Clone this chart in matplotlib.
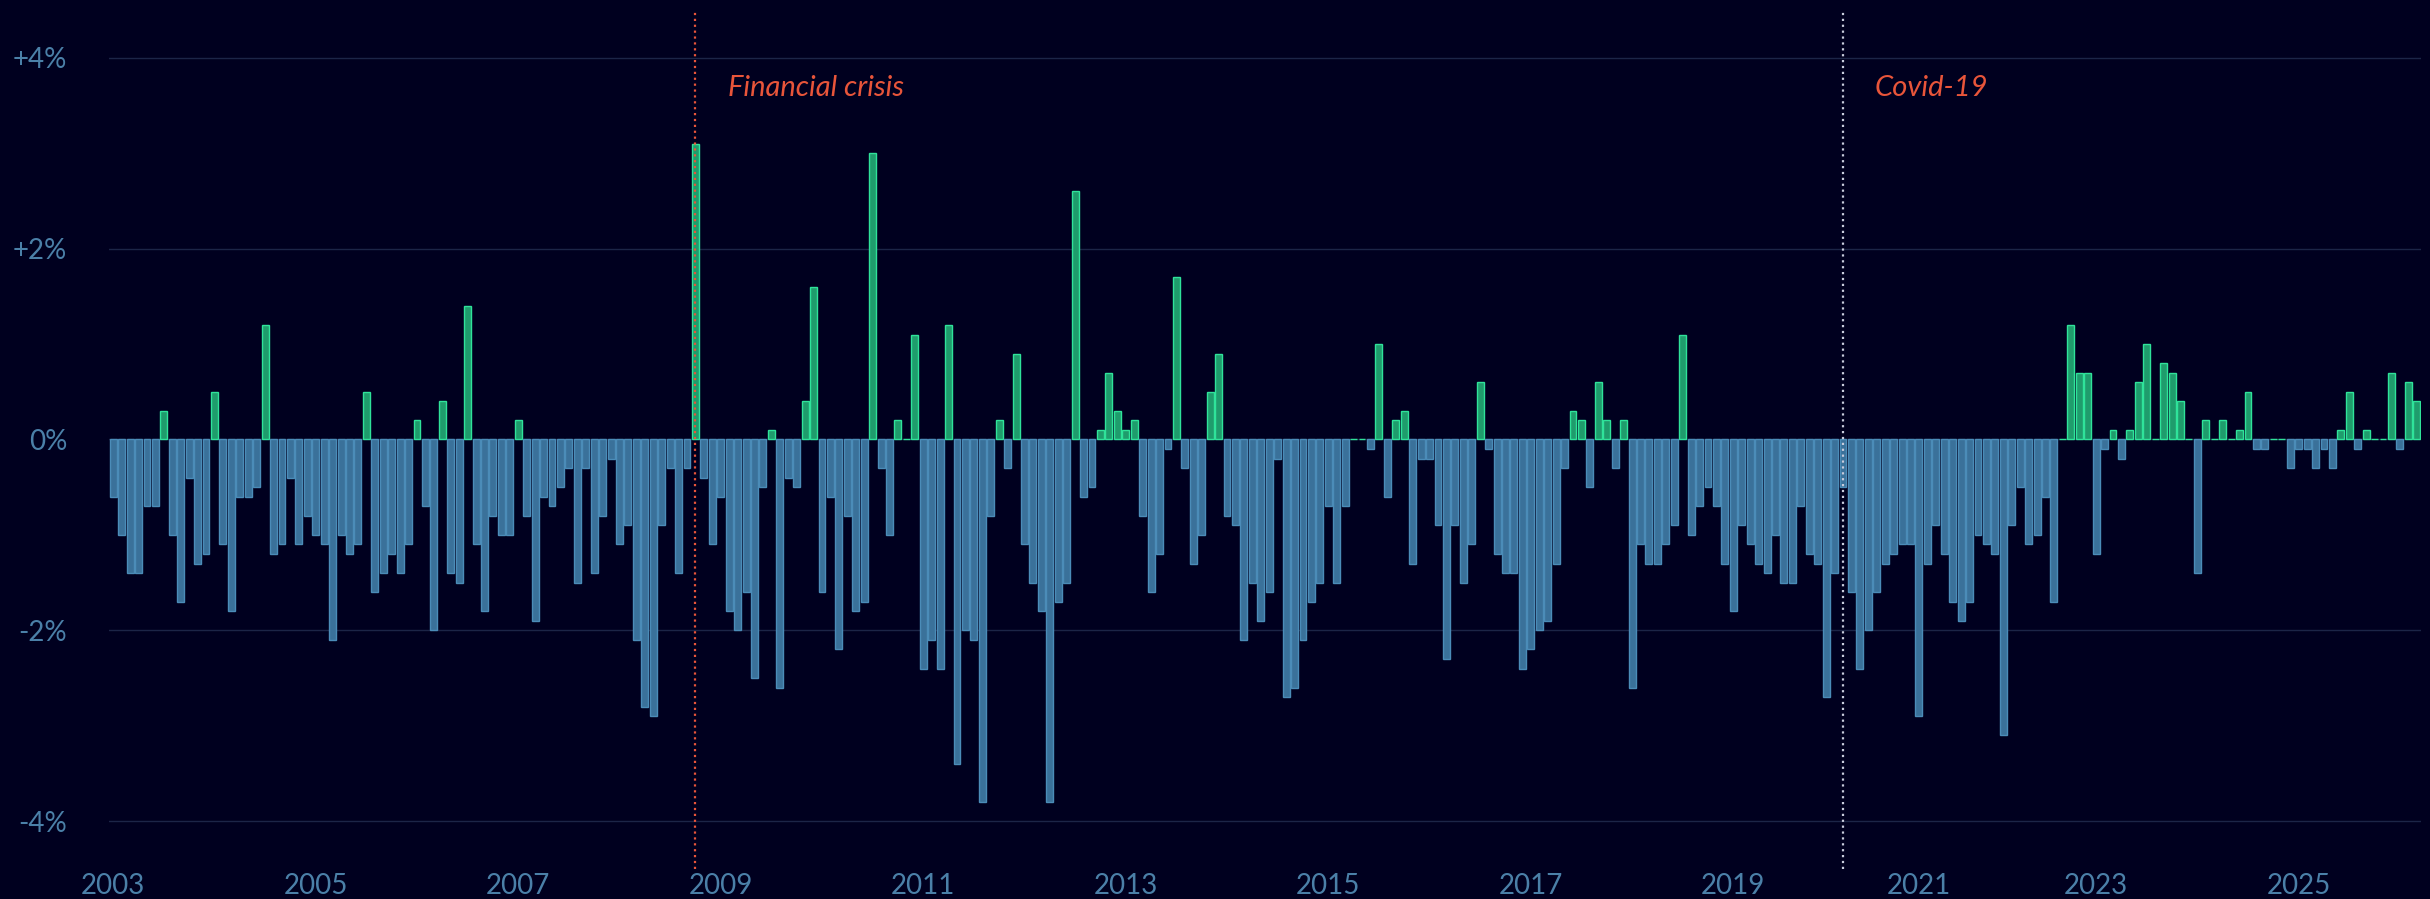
import matplotlib.pyplot as plt

# monthly change, % (Jan 2003 ->)
values = [
    -0.6, -1.0, -1.4, -1.4, -0.7, -0.7, 0.3, -1.0, -1.7, -0.4, -1.3, -1.2,
    0.5, -1.1, -1.8, -0.6, -0.6, -0.5, 1.2, -1.2, -1.1, -0.4, -1.1, -0.8,
    -1.0, -1.1, -2.1, -1.0, -1.2, -1.1, 0.5, -1.6, -1.4, -1.2, -1.4, -1.1,
    0.2, -0.7, -2.0, 0.4, -1.4, -1.5, 1.4, -1.1, -1.8, -0.8, -1.0, -1.0,
    0.2, -0.8, -1.9, -0.6, -0.7, -0.5, -0.3, -1.5, -0.3, -1.4, -0.8, -0.2,
    -1.1, -0.9, -2.1, -2.8, -2.9, -0.9, -0.3, -1.4, -0.3, 3.1, -0.4, -1.1,
    -0.6, -1.8, -2.0, -1.6, -2.5, -0.5, 0.1, -2.6, -0.4, -0.5, 0.4, 1.6,
    -1.6, -0.6, -2.2, -0.8, -1.8, -1.7, 3.0, -0.3, -1.0, 0.2, 0.0, 1.1,
    -2.4, -2.1, -2.4, 1.2, -3.4, -2.0, -2.1, -3.8, -0.8, 0.2, -0.3, 0.9,
    -1.1, -1.5, -1.8, -3.8, -1.7, -1.5, 2.6, -0.6, -0.5, 0.1, 0.7, 0.3,
    0.1, 0.2, -0.8, -1.6, -1.2, -0.1, 1.7, -0.3, -1.3, -1.0, 0.5, 0.9,
    -0.8, -0.9, -2.1, -1.5, -1.9, -1.6, -0.2, -2.7, -2.6, -2.1, -1.7, -1.5,
    -0.7, -1.5, -0.7, 0.0, 0.0, -0.1, 1.0, -0.6, 0.2, 0.3, -1.3, -0.2,
    -0.2, -0.9, -2.3, -0.9, -1.5, -1.1, 0.6, -0.1, -1.2, -1.4, -1.4, -2.4,
    -2.2, -2.0, -1.9, -1.3, -0.3, 0.3, 0.2, -0.5, 0.6, 0.2, -0.3, 0.2,
    -2.6, -1.1, -1.3, -1.3, -1.1, -0.9, 1.1, -1.0, -0.7, -0.5, -0.7, -1.3,
    -1.8, -0.9, -1.1, -1.3, -1.4, -1.0, -1.5, -1.5, -0.7, -1.2, -1.3, -2.7,
    -1.4, -0.5, -1.6, -2.4, -2.0, -1.6, -1.3, -1.2, -1.1, -1.1, -2.9, -1.3,
    -0.9, -1.2, -1.7, -1.9, -1.7, -1.0, -1.1, -1.2, -3.1, -0.9, -0.5, -1.1,
    -1.0, -0.6, -1.7, 0.0, 1.2, 0.7, 0.7, -1.2, -0.1, 0.1, -0.2, 0.1,
    0.6, 1.0, 0.0, 0.8, 0.7, 0.4, 0.0, -1.4, 0.2, 0.0, 0.2, 0.0,
    0.1, 0.5, -0.1, -0.1, 0.0, 0.0, -0.3, -0.1, -0.1, -0.3, -0.1, -0.3,
    0.1, 0.5, -0.1, 0.1, 0.0, 0.0, 0.7, -0.1, 0.6, 0.4,
]

# x labels and the bar they sit under
year_labels = ['2003', '2005', '2007', '2009', '2011', '2013',
               '2015', '2017', '2019', '2021', '2023', '2025']
year_pos = [0, 24, 48, 72, 96, 120, 144, 168, 192, 214, 235, 259]

events = ['Financial crisis', 'Covid-19']
event_pos = [69, 205]
event_line_colors = ['#e8553a', '#c8ccdc']

bg = '#00001f'
tick_col = '#4b80a8'

plt.rcParams['font.family'] = ['Lato', 'DejaVu Sans']

fig = plt.figure(figsize=(24.3, 8.99), dpi=100, facecolor=bg)
ax = fig.add_axes([109 / 2430, 30 / 899, 2312 / 2430, 859 / 899])
ax.set_facecolor(bg)

face = ['#1f9c6c' if v >= 0 else '#3a719a' for v in values]
edge = ['#2fe39a' if v >= 0 else '#4b8cb8' for v in values]
ax.bar(range(len(values)), values, width=0.82, color=face, edgecolor=edge,
       linewidth=1.0, zorder=3)

ax.set_xlim(-0.5, len(values) - 0.5)
ax.set_ylim(-4.5, 4.5)
ax.set_yticks([-4, -2, 0, 2, 4])
ax.set_yticklabels(['-4%', '-2%', '0%', '+2%', '+4%'])
ax.set_xticks(year_pos)
ax.set_xticklabels(year_labels)
ax.grid(axis='y', color='#1c2547', linewidth=1, zorder=0)
ax.grid(axis='x', visible=False)
for s in ax.spines.values():
    s.set_visible(False)
ax.tick_params(axis='both', length=0, colors=tick_col, labelsize=20)
ax.tick_params(axis='y', pad=30)
ax.tick_params(axis='x', pad=3)

for pos, name, lc in zip(event_pos, events, event_line_colors):
    ax.axvline(pos, color=lc, linestyle=':', linewidth=1.6, zorder=4)
    ax.text(pos + 3.8, 3.68, name, color='#e8553a', style='italic',
            fontsize=21, va='center', ha='left')

fig.savefig('out.png', dpi=100, facecolor=bg)
